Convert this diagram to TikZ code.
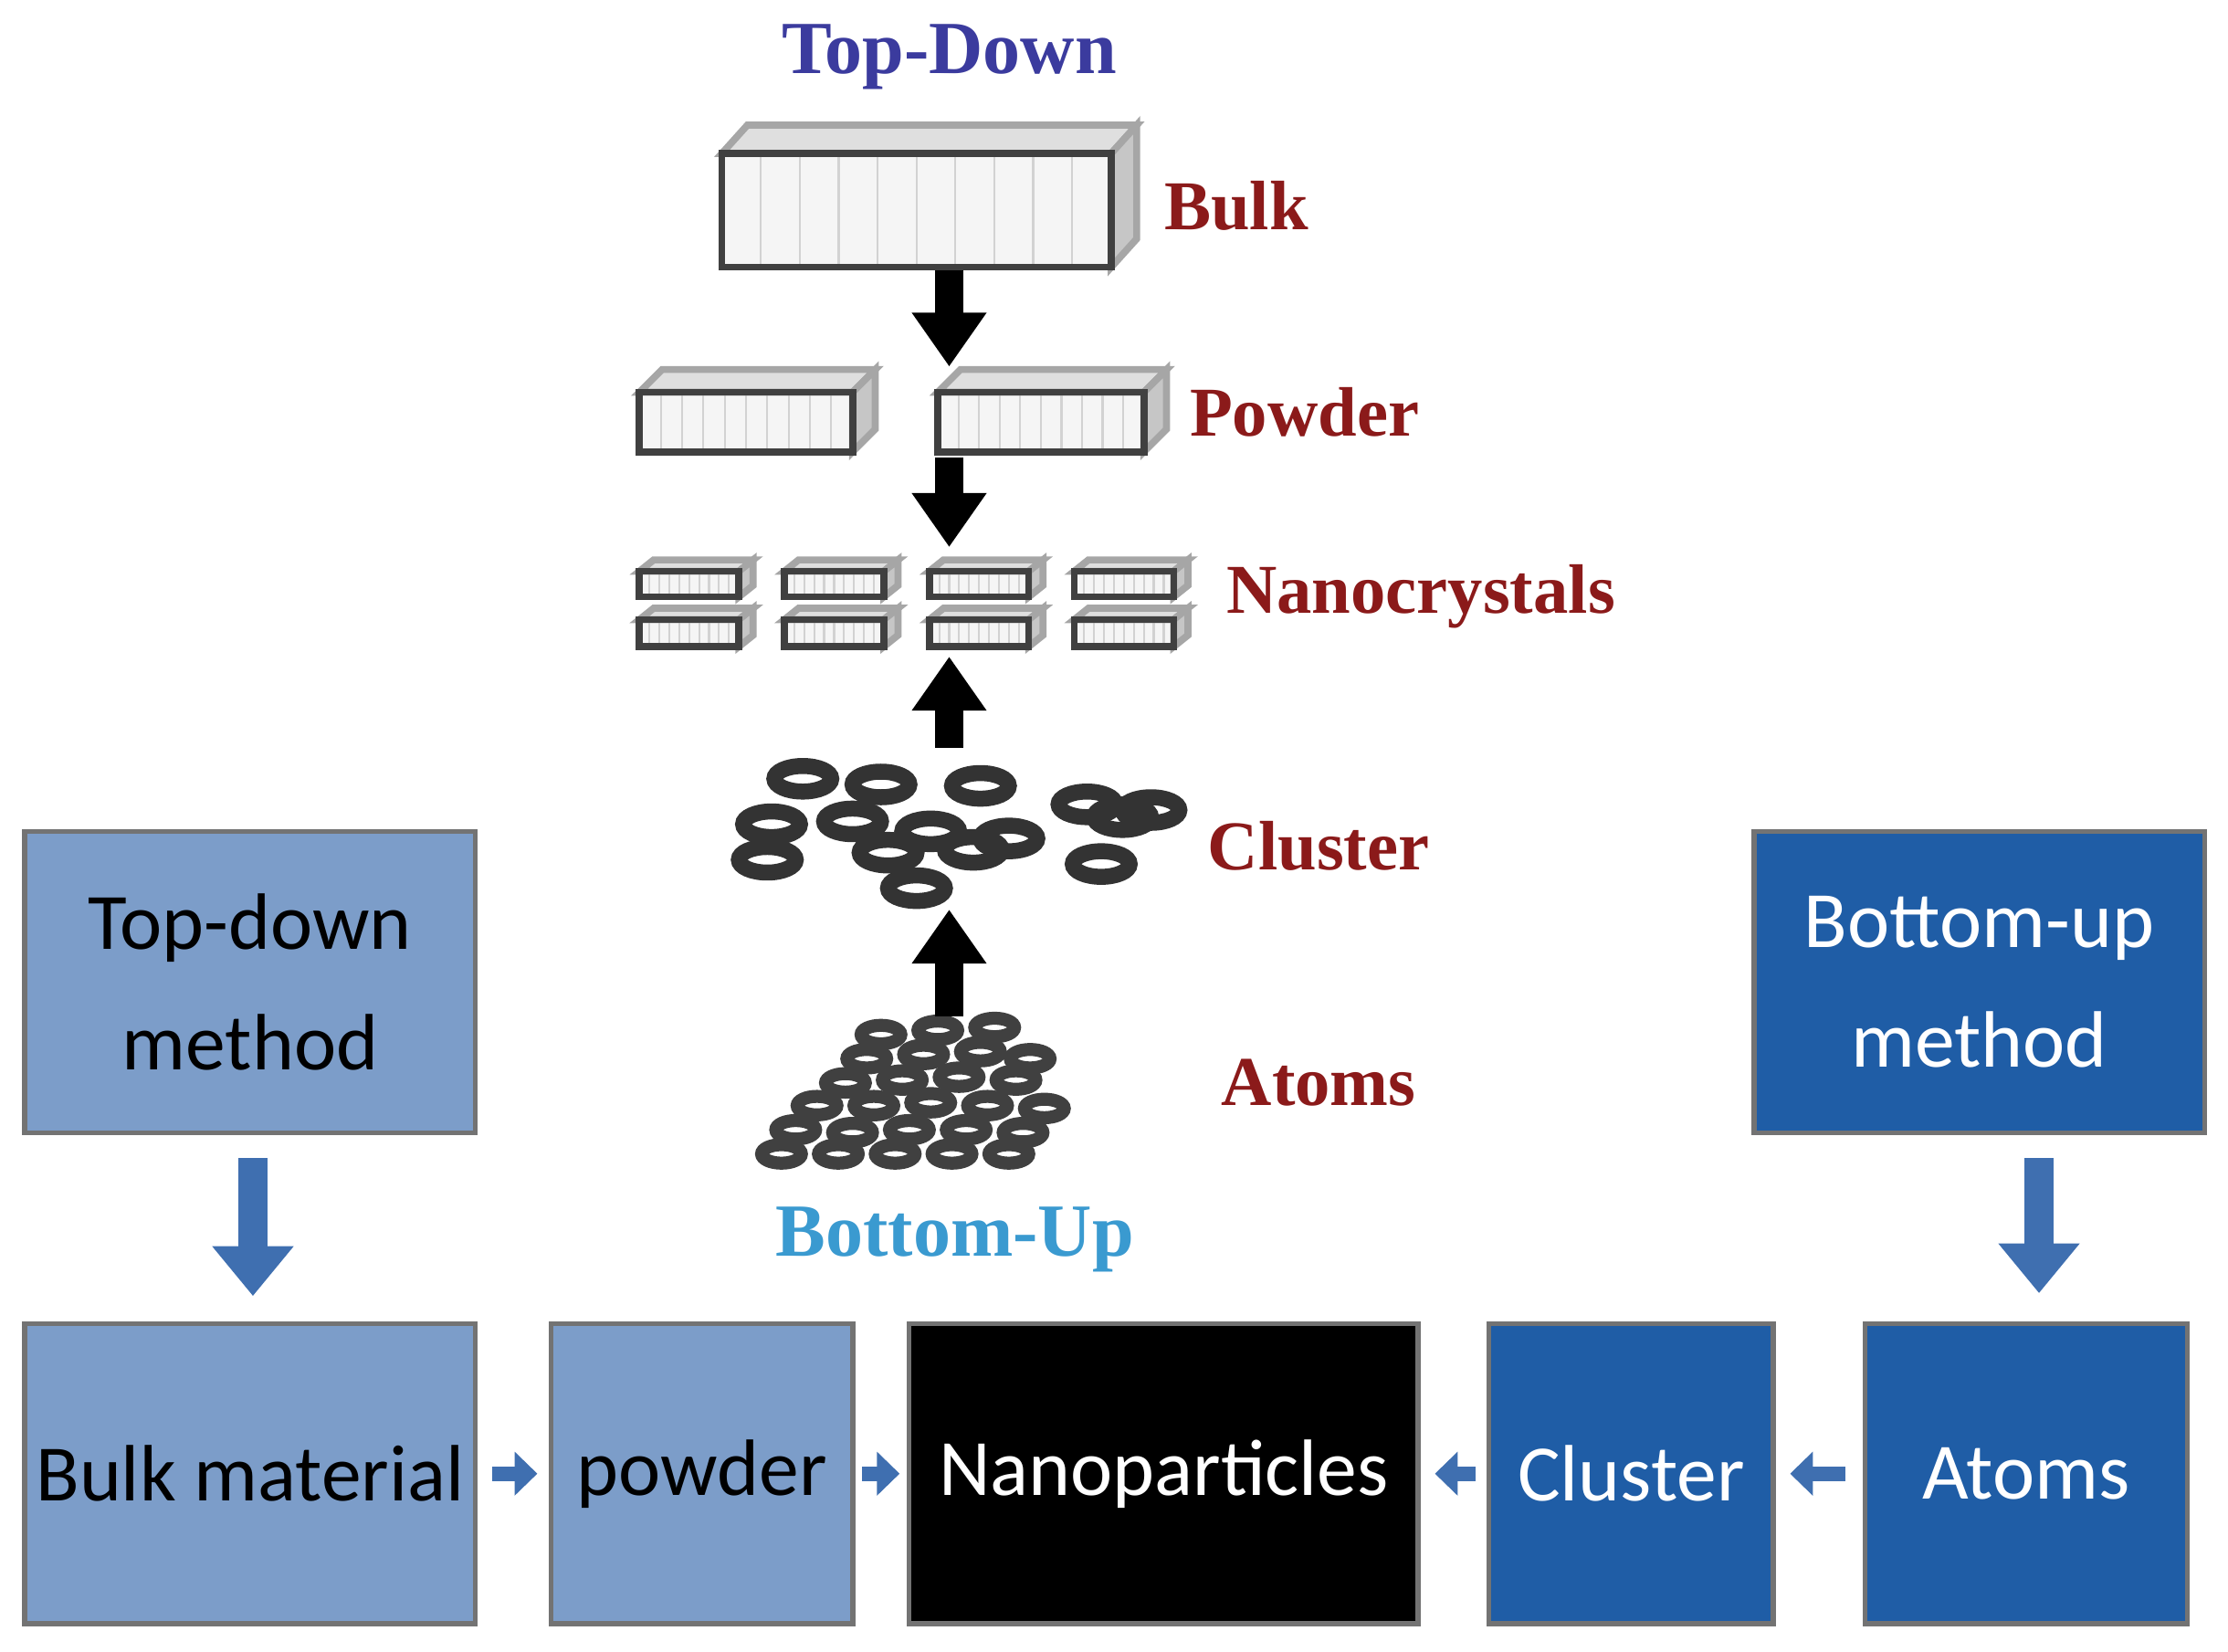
\documentclass[tikz,border=0pt]{standalone}
\usepackage{fontspec}
\setmainfont{Liberation Serif}
\newfontfamily\boxfont{Carlito}
\usetikzlibrary{arrows.meta}
\definecolor{lightbl}{HTML}{7C9DC9}
\definecolor{darkbl}{HTML}{1F5DA6}
\definecolor{titlebl}{HTML}{3B3B9E}
\definecolor{bottombl}{HTML}{3A9AD0}
\definecolor{lblred}{HTML}{8B1A1A}
\definecolor{arrbl}{HTML}{3F6FB0}

% cuboid: front face corners (x1,y1)-(x2,y2), depth offset (dx,dy)
\newcommand{\mycuboid}[6]{%
  \fill[gray!8] (#1,#2) rectangle (#3,#4);
  \foreach \i in {0.1,0.2,...,0.9} \draw[gray!35,thin] ({#1+\i*(#3-#1)},#2) -- ({#1+\i*(#3-#1)},#4);
  \draw[gray!70,line width=1.4pt,fill=gray!25] (#1,#2) -- ({#1+#5},{#2-#6}) -- ({#3+#5},{#2-#6}) -- (#3,#2) -- cycle;
  \draw[gray!70,line width=1.4pt,fill=gray!45] (#3,#2) -- ({#3+#5},{#2-#6}) -- ({#3+#5},{#4-#6}) -- (#3,#4) -- cycle;
  \draw[black!75,line width=1.4pt] (#1,#2) rectangle (#3,#4);
}

\begin{document}
\begin{tikzpicture}[x=0.01cm,y=-0.01cm,
  lbl/.style={font=\fontsize{14}{16}\selectfont\bfseries, text=lblred},
  ttl/.style={font=\fontsize{15}{17}\selectfont\bfseries},
  bx/.style={draw=black!55, line width=1pt, font=\boxfont\fontsize{16}{24}\selectfont, align=center, inner sep=0pt},
  lb/.style={bx, fill=lightbl, text=black},
  db/.style={bx, fill=darkbl, text=white},
  blk/.style={line width=0.2cm, -{Triangle[length=0.38cm,width=0.5cm]}},
  barr/.style={line width=0.2cm, arrbl, -{Triangle[length=0.35cm,width=0.55cm]}},
  sarr/.style={line width=0.1cm, arrbl, -{Triangle[length=0.16cm,width=0.3cm]}}
]
\useasboundingbox (0,0) rectangle (1568,1162);
\fill[white] (0,0) rectangle (1568,1162);

% titles
\node[ttl, text=titlebl] (td) at (668,40) {Top-Down};
\node[ttl, text=bottombl] (bu) at (672,872) {Bottom-Up};

% bulk
\mycuboid{508}{108}{782}{188}{18}{20}
\coordinate (bulk) at (668,190);
\node[lbl] (lbulk) at (870,145) {Bulk};

% powder
\mycuboid{450}{276}{600}{318}{16}{16}
\mycuboid{660}{276}{805}{318}{16}{16}
\coordinate (pow1) at (668,258);
\coordinate (pow2) at (668,322);
\node[lbl] (lpow) at (918,290) {Powder};

% nanocrystals
\foreach \x in {450,552,654,756} {
  \mycuboid{\x}{402}{\x+70}{420}{10}{8}
  \mycuboid{\x}{436}{\x+70}{455}{10}{8}
}
\coordinate (nc1) at (668,385);
\coordinate (nc2) at (668,462);
\node[lbl] (lnc) at (1000,420) {Nanocrystals};

% cluster
\foreach \x/\y in {565/548,620/552,690/553,765/566,543/580,600/578,655/585,710/590,790/575,540/605,625/600,685/598,775/608,645/625,810/570}
  \draw[black!80, line width=3.2pt] (\x,\y) ellipse (20 and 9);
\coordinate (cl1) at (668,526);
\coordinate (cl2) at (668,640);
\node[lbl] (lcl) at (928,595) {Cluster};

% atoms
\foreach \x/\y in {620/728,660/725,700/723,610/745,650/742,690/740,725/745,595/762,635/760,675/758,715/760,575/778,615/778,655/776,695/778,735/780,560/795,600/797,640/795,680/795,720/797,550/812,590/812,630/812,670/812,710/812}
  \draw[black!75, line width=2.6pt] (\x,\y) ellipse (14 and 6.5);
\coordinate (at1) at (668,715);
\node[lbl] (lat) at (928,762) {Atoms};

% black arrows
\draw[blk] (bulk) -- (pow1);
\draw[blk] (pow2) -- (nc1);
\draw[blk] (cl1) -- (nc2);
\draw[blk] (at1) -- (cl2);

% boxes
\node[lb, minimum width=3.17cm, minimum height=2.12cm] (tdm) at (176,691) {Top-down\\method};
\node[db, minimum width=3.17cm, minimum height=2.12cm] (bum) at (1393,691) {Bottom-up\\method};
\node[lb, minimum width=3.17cm, minimum height=2.11cm] (bm) at (176,1037) {Bulk material};
\node[lb, minimum width=2.12cm, minimum height=2.11cm] (pw) at (494,1037) {powder};
\node[bx, fill=black, text=white, minimum width=3.58cm, minimum height=2.11cm] (np) at (819,1037) {Nanoparticles};
\node[db, minimum width=2.0cm, minimum height=2.11cm] (cb) at (1148,1037) {Cluster};
\node[db, minimum width=2.27cm, minimum height=2.11cm] (ab) at (1426,1037) {Atoms};

% blue arrows
\coordinate (t1) at (178,815);
\coordinate (t2) at (178,912);
\coordinate (b1) at (1435,815);
\coordinate (b2) at (1435,910);
\draw[barr] (t1) -- (t2);
\draw[barr] (b1) -- (b2);
\draw[sarr] ([xshift=0.1cm]bm.east) -- ([xshift=-0.08cm]pw.west);
\draw[sarr] ([xshift=0.05cm]pw.east) -- ([xshift=-0.05cm]np.west);
\draw[sarr] ([xshift=-0.08cm]cb.west) -- ([xshift=0.1cm]np.east);
\draw[sarr] ([xshift=-0.12cm]ab.west) -- ([xshift=0.1cm]cb.east);
\end{tikzpicture}
\end{document}
